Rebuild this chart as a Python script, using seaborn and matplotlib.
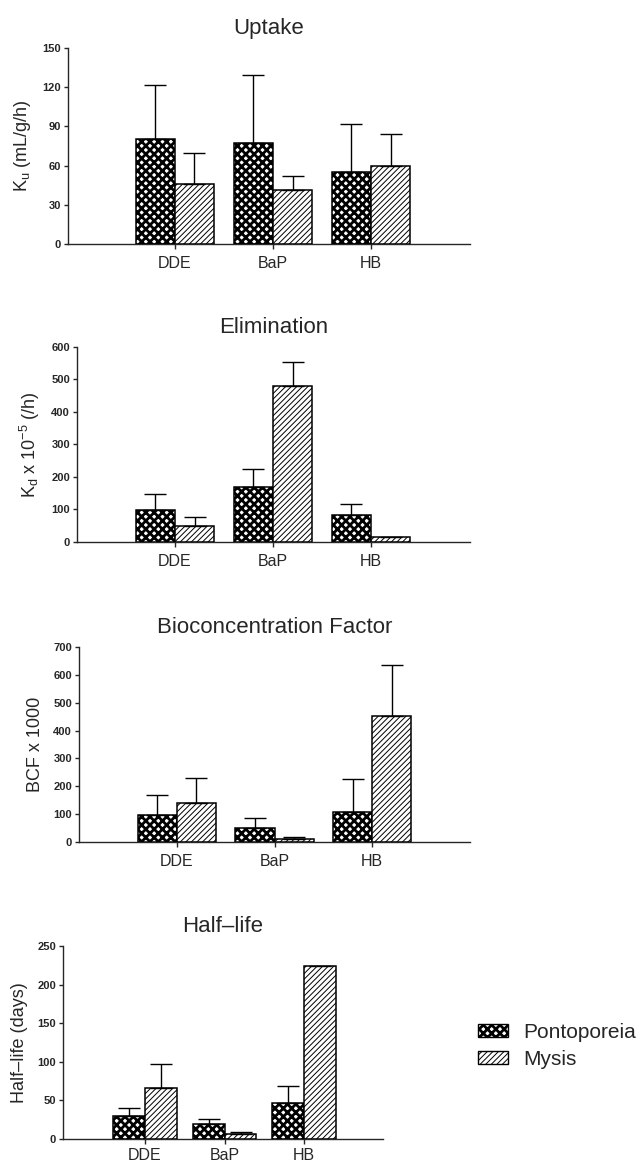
import numpy as np
import pandas as pd
import matplotlib
matplotlib.use("Agg")
import matplotlib.pyplot as plt
import seaborn as sns
from matplotlib.patches import Patch

# ---------------- data ----------------
categories = ["DDE", "BaP", "HB"]
species = ["Pontoporeia", "Mysis"]

uptake_pont = [80, 77, 55]
uptake_pont_err = [42, 52, 37]
uptake_mysis = [46, 41, 60]
uptake_mysis_err = [24, 11, 24]

elim_pont = [97, 169, 83]
elim_pont_err = [52, 57, 33]
elim_mysis = [50, 479, 16]
elim_mysis_err = [26, 75, np.nan]

bcf_pont = [98, 52, 106]
bcf_pont_err = [70, 34, 120]
bcf_mysis = [140, 12, 451]
bcf_mysis_err = [88, 6, 185]

half_pont = [30, 20, 47]
half_pont_err = [10, 6, 22]
half_mysis = [66, 7, 224]
half_mysis_err = [31, 2.5, np.nan]

titles = ["Uptake", "Elimination", "Bioconcentration Factor", "Half\u2013life"]
ylabels = ["K$_\\mathregular{u}$ (mL/g/h)",
           "K$_\\mathregular{d}$ x 10$^{\\mathregular{-5}}$ (/h)",
           "BCF x 1000",
           "Half\u2013life (days)"]
yticks = [np.arange(0, 151, 30), np.arange(0, 601, 100),
          np.arange(0, 701, 100), np.arange(0, 251, 50)]

panels = [
    (uptake_pont, uptake_pont_err, uptake_mysis, uptake_mysis_err),
    (elim_pont, elim_pont_err, elim_mysis, elim_mysis_err),
    (bcf_pont, bcf_pont_err, bcf_mysis, bcf_mysis_err),
    (half_pont, half_pont_err, half_mysis, half_mysis_err),
]

# ---------------- style ----------------
sns.set_style("ticks")
plt.rcParams["font.family"] = ["Liberation Sans", "DejaVu Sans"]
plt.rcParams["mathtext.fontset"] = "custom"
plt.rcParams["mathtext.rm"] = "Liberation Sans"
plt.rcParams["mathtext.it"] = "Liberation Sans"
plt.rcParams["axes.linewidth"] = 1.0
plt.rcParams["hatch.color"] = "black"

W, H = 644, 1165
fig = plt.figure(figsize=(W / 100, H / 100), dpi=100)

# axes boxes in pixels: left, right, top, bottom ; and x-limits
boxes = [(68, 470, 48, 244), (77, 470, 347, 542), (79, 470, 647, 842), (63, 383, 946, 1139)]
xlims = [(-1.09, 3.01), (-1.0, 3.01), (-1.0, 3.0), (-1.03, 2.99)]
xpads = [5, 5, 5, 3]

hatches = {"Pontoporeia": ("xxxx", 2.0), "Mysis": ("//////", 0.7)}


def style_patch(p, sp):
    h, lw = hatches[sp]
    p.set_facecolor("white")
    p.set_edgecolor("black")
    p.set_linewidth(1.1)
    p.set_hatch(h)
    if hasattr(p, "set_hatch_linewidth"):
        p.set_hatch_linewidth(lw)
    else:
        p._hatch_linewidth = lw


for i, (pv, pe, mv, me) in enumerate(panels):
    l, r, t, b = boxes[i]
    ax = fig.add_axes([l / W, 1 - b / H, (r - l) / W, (b - t) / H])
    df = pd.DataFrame({
        "compound": categories * 2,
        "species": [species[0]] * 3 + [species[1]] * 3,
        "value": list(pv) + list(mv),
    })
    sns.barplot(data=df, x="compound", y="value", hue="species", order=categories,
                hue_order=species, ax=ax, width=0.8, errorbar=None, legend=False,
                saturation=1)
    errs = {species[0]: pe, species[1]: me}
    for cont, sp in zip(ax.containers, species):
        xs, tops = [], []
        for p in cont.patches:
            style_patch(p, sp)
            xs.append(p.get_x() + p.get_width() / 2)
            tops.append(p.get_height())
        e = np.array(errs[sp], dtype=float)
        ax.errorbar(xs, tops, yerr=[np.zeros_like(e), e], fmt="none", ecolor="black",
                    elinewidth=1.0, capsize=8, capthick=1.0, zorder=1)
    ax.set_xlim(*xlims[i])
    ax.set_ylim(0, yticks[i][-1])
    ax.set_yticks(yticks[i])
    ax.set_yticklabels([str(v) for v in yticks[i]], fontsize=8, fontweight="bold")
    ax.tick_params(axis="y", direction="out", length=3, width=1, pad=2)
    ax.tick_params(axis="x", direction="out", length=3.5, width=1, pad=xpads[i],
                   labelsize=11.5)
    ax.set_xlabel("")
    ax.set_ylabel(ylabels[i], fontsize=13, labelpad=7)
    ax.set_title(titles[i], fontsize=16, pad=10)
    sns.despine(ax=ax)
    ax.spines["bottom"].set_zorder(0)
    if i == 3:
        handles = [Patch(facecolor="white", edgecolor="black", hatch=hatches[sp][0],
                         linewidth=1.0, label=sp) for sp in species]
        leg = fig.legend(handles=handles, loc="center left",
                         bbox_to_anchor=(478 / W, 1 - 1046 / H), frameon=False,
                         fontsize=15, handlelength=1.45, handleheight=0.6,
                         handletextpad=0.7, labelspacing=0.4, borderpad=0,
                         borderaxespad=0)
        for p, sp in zip(leg.get_patches(), species):
            style_patch(p, sp)
            p.set_linewidth(1.0)

fig.savefig("out.png", dpi=100)
